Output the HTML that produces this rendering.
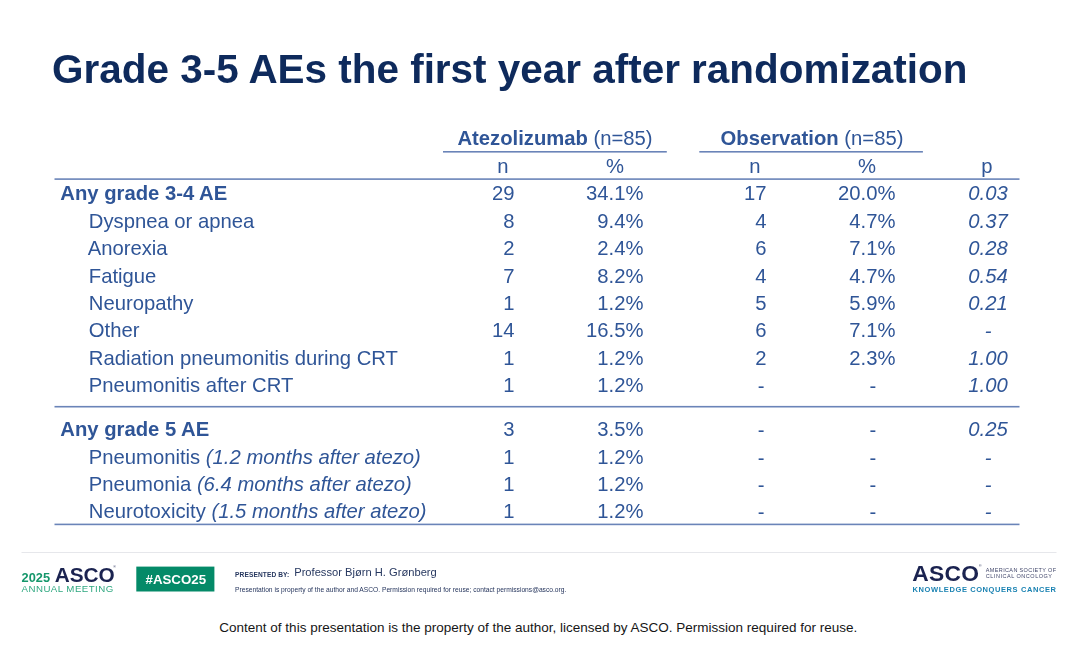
<!DOCTYPE html>
<html lang="en"><head><meta charset="utf-8"><title>Grade 3-5 AEs the first year after randomization</title>
<style>
html,body{margin:0;padding:0;background:#fff;}
body{width:1080px;height:647px;position:relative;overflow:hidden;font-family:"Liberation Sans",Arial,sans-serif;}
#title{position:absolute;left:52.1px;top:45.5px;font-size:40.45px;line-height:46px;font-weight:bold;color:#0e2a5c;white-space:nowrap;letter-spacing:0px;}
.r{position:absolute;left:0;width:1080px;height:28px;line-height:28px;font-size:20.25px;color:#2f5597;white-space:nowrap;}
.r span{position:absolute;top:0;}
.r span.dh{position:relative;top:0.7px;}
.b{font-weight:bold;}
.it{font-style:italic;}
.ce{text-align:center;}
.hd{position:absolute;font-size:20.25px;line-height:28px;color:#2f5597;white-space:nowrap;text-align:center;}
#cap{position:absolute;left:0;width:1076.5px;top:619.6px;text-align:center;font-size:13.5px;line-height:16px;color:#161616;white-space:nowrap;}
.ft{position:absolute;white-space:nowrap;line-height:1;}
#slide{position:absolute;left:0;top:0;width:1080px;height:610px;filter:blur(0.4px);}
</style></head><body>
<div id="slide">
<div id="title">Grade 3-5 AEs the first year after randomization</div>

<div id="h1" class="hd" style="left:443px;width:224px;top:124px"><b>Atezolizumab</b> (n=85)</div>
<div id="h2" class="hd" style="left:700px;width:224px;top:124px"><b>Observation</b> (n=85)</div>
<div id="hn1" class="hd" style="left:483px;width:40px;top:151.9px">n</div>
<div id="hp1" class="hd" style="left:595px;width:40px;top:151.9px">%</div>
<div id="hn2" class="hd" style="left:735px;width:40px;top:151.9px">n</div>
<div id="hp2" class="hd" style="left:847px;width:40px;top:151.9px">%</div>
<div id="hp" class="hd" style="left:967px;width:40px;top:151.9px">p</div>
<div class="r" style="top:179.0px"><span id="L0" class="lb b" style="left:60.3px">Any grade 3-4 AE</span><span id="A0" class="ra" style="right:565.5px">29</span><span id="B0" class="ra" style="right:436.5px">34.1%</span><span id="C0" class="ra" style="right:313.5px">17</span><span id="D0" class="ra" style="right:184.5px">20.0%</span><span id="P0" class="ce it" style="left:958px;width:60px">0.03</span></div>
<div class="r" style="top:207.0px"><span id="L1" class="lb" style="left:88.8px">Dyspnea or apnea</span><span id="A1" class="ra" style="right:565.5px">8</span><span id="B1" class="ra" style="right:436.5px">9.4%</span><span id="C1" class="ra" style="right:313.5px">4</span><span id="D1" class="ra" style="right:184.5px">4.7%</span><span id="P1" class="ce it" style="left:958px;width:60px">0.37</span></div>
<div class="r" style="top:234.0px"><span id="L2" class="lb" style="left:87.7px">Anorexia</span><span id="A2" class="ra" style="right:565.5px">2</span><span id="B2" class="ra" style="right:436.5px">2.4%</span><span id="C2" class="ra" style="right:313.5px">6</span><span id="D2" class="ra" style="right:184.5px">7.1%</span><span id="P2" class="ce it" style="left:958px;width:60px">0.28</span></div>
<div class="r" style="top:262.0px"><span id="L3" class="lb" style="left:88.8px">Fatigue</span><span id="A3" class="ra" style="right:565.5px">7</span><span id="B3" class="ra" style="right:436.5px">8.2%</span><span id="C3" class="ra" style="right:313.5px">4</span><span id="D3" class="ra" style="right:184.5px">4.7%</span><span id="P3" class="ce it" style="left:958px;width:60px">0.54</span></div>
<div class="r" style="top:289.0px"><span id="L4" class="lb" style="left:88.8px">Neuropathy</span><span id="A4" class="ra" style="right:565.5px">1</span><span id="B4" class="ra" style="right:436.5px">1.2%</span><span id="C4" class="ra" style="right:313.5px">5</span><span id="D4" class="ra" style="right:184.5px">5.9%</span><span id="P4" class="ce it" style="left:958px;width:60px">0.21</span></div>
<div class="r" style="top:316.0px"><span id="L5" class="lb" style="left:88.8px">Other</span><span id="A5" class="ra" style="right:565.5px">14</span><span id="B5" class="ra" style="right:436.5px">16.5%</span><span id="C5" class="ra" style="right:313.5px">6</span><span id="D5" class="ra" style="right:184.5px">7.1%</span><span id="P5" class="ce it" style="left:958px;width:60px"><span class="dh">-</span></span></div>
<div class="r" style="top:344.0px"><span id="L6" class="lb" style="left:88.8px">Radiation pneumonitis during CRT</span><span id="A6" class="ra" style="right:565.5px">1</span><span id="B6" class="ra" style="right:436.5px">1.2%</span><span id="C6" class="ra" style="right:313.5px">2</span><span id="D6" class="ra" style="right:184.5px">2.3%</span><span id="P6" class="ce it" style="left:958px;width:60px">1.00</span></div>
<div class="r" style="top:371.0px"><span id="L7" class="lb" style="left:88.8px">Pneumonitis after CRT</span><span id="A7" class="ra" style="right:565.5px">1</span><span id="B7" class="ra" style="right:436.5px">1.2%</span><span id="C7" class="ra" style="right:315.4px"><span class="dh">-</span></span><span id="D7" class="ce" style="left:852.8px;width:40px"><span class="dh">-</span></span><span id="P7" class="ce it" style="left:958px;width:60px">1.00</span></div>
<div class="r" style="top:415.0px"><span id="L8" class="lb b" style="left:60.3px">Any grade 5 AE</span><span id="A8" class="ra" style="right:565.5px">3</span><span id="B8" class="ra" style="right:436.5px">3.5%</span><span id="C8" class="ra" style="right:315.4px"><span class="dh">-</span></span><span id="D8" class="ce" style="left:852.8px;width:40px"><span class="dh">-</span></span><span id="P8" class="ce it" style="left:958px;width:60px">0.25</span></div>
<div class="r" style="top:443.0px"><span id="L9" class="lb" style="left:88.8px">Pneumonitis <i>(1.2 months after atezo)</i></span><span id="A9" class="ra" style="right:565.5px">1</span><span id="B9" class="ra" style="right:436.5px">1.2%</span><span id="C9" class="ra" style="right:315.4px"><span class="dh">-</span></span><span id="D9" class="ce" style="left:852.8px;width:40px"><span class="dh">-</span></span><span id="P9" class="ce it" style="left:958px;width:60px"><span class="dh">-</span></span></div>
<div class="r" style="top:470.0px"><span id="L10" class="lb" style="left:88.8px">Pneumonia <i>(6.4 months after atezo)</i></span><span id="A10" class="ra" style="right:565.5px">1</span><span id="B10" class="ra" style="right:436.5px">1.2%</span><span id="C10" class="ra" style="right:315.4px"><span class="dh">-</span></span><span id="D10" class="ce" style="left:852.8px;width:40px"><span class="dh">-</span></span><span id="P10" class="ce it" style="left:958px;width:60px"><span class="dh">-</span></span></div>
<div class="r" style="top:497.0px"><span id="L11" class="lb" style="left:88.8px">Neurotoxicity <i>(1.5 months after atezo)</i></span><span id="A11" class="ra" style="right:565.5px">1</span><span id="B11" class="ra" style="right:436.5px">1.2%</span><span id="C11" class="ra" style="right:315.4px"><span class="dh">-</span></span><span id="D11" class="ce" style="left:852.8px;width:40px"><span class="dh">-</span></span><span id="P11" class="ce it" style="left:958px;width:60px"><span class="dh">-</span></span></div>

<svg id="lines" width="1080" height="647" viewBox="0 0 1080 647" style="position:absolute;left:0;top:0;pointer-events:none" shape-rendering="geometricPrecision">
<g fill="#6a84b8">
<rect x="443" y="151.0" width="223.8" height="1.6"/>
<rect x="699.3" y="151.0" width="223.6" height="1.6"/>
<rect x="54.5" y="178.3" width="965" height="1.6"/>
<rect x="54.5" y="405.9" width="965" height="1.6"/>
<rect x="54.5" y="523.6" width="965" height="1.6"/>
</g>
<rect x="21.5" y="552" width="1035" height="1" fill="#e6e7eb"/>
<rect x="136.3" y="566.6" width="78.1" height="24.9" fill="#048a68"/>
</svg>
<div id="f2025" class="ft" style="left:21.6px;top:572.3px;font-size:12.8px;font-weight:bold;color:#15976b;">2025</div>
<div id="fasco" class="ft" style="left:54.7px;top:564.5px;font-size:20.8px;font-weight:bold;color:#1b2350;">ASCO</div>
<div id="freg" class="ft" style="left:113.2px;top:565.5px;font-size:3.5px;color:#1b2350;">&#174;</div>
<div id="fam" class="ft" style="left:21.6px;top:584.4px;font-size:9.7px;letter-spacing:0.45px;color:#2fa880;">ANNUAL MEETING</div>
<div id="fhash" class="ft" style="left:136.8px;width:78px;text-align:center;top:572.7px;font-size:13.3px;font-weight:bold;color:#fff;">#ASCO25</div>
<div id="fpb" class="ft" style="left:235.1px;top:571.7px;font-size:6.6px;font-weight:bold;letter-spacing:0.1px;color:#26375f;">PRESENTED BY:</div>
<div id="fname" class="ft" style="left:294.2px;top:567.0px;font-size:11.17px;color:#26375f;">Professor Bj&#248;rn H. Gr&#248;nberg</div>
<div id="fsm" class="ft" style="left:235.1px;top:586.9px;font-size:6.68px;color:#1f2f58;">Presentation is property of the author and ASCO. Permission required for reuse; contact permissions@asco.org.</div>
<div id="rasco" class="ft" style="left:912.3px;top:562.4px;font-size:22.8px;font-weight:bold;letter-spacing:0.3px;color:#1b2350;">ASCO</div>
<div id="rreg" class="ft" style="left:979px;top:565.2px;font-size:3.5px;color:#1b2350;">&#174;</div>
<div id="ram1" class="ft" style="left:985.8px;top:567.5px;font-size:5.5px;letter-spacing:0.36px;color:#40466a;">AMERICAN SOCIETY OF</div>
<div id="ram2" class="ft" style="left:985.8px;top:574.3px;font-size:5.5px;letter-spacing:0.52px;color:#40466a;">CLINICAL ONCOLOGY</div>
<div id="rkcc" class="ft" style="left:912.6px;top:586.4px;font-size:7.5px;font-weight:bold;letter-spacing:0.59px;color:#1a82b2;">KNOWLEDGE CONQUERS CANCER</div>
</div>
<div id="cap">Content of this presentation is the property of the author, licensed by ASCO. Permission required for reuse.</div>
</body></html>
